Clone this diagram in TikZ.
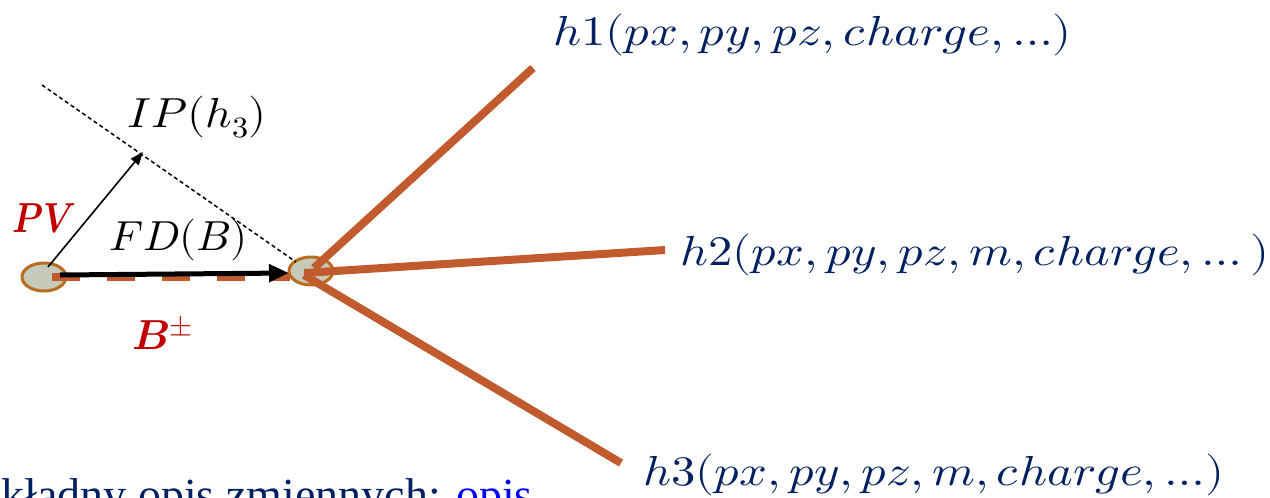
\documentclass[tikz,border=0pt]{standalone}
\usepackage{fontspec}
\usepackage{unicode-math}
\setmathfont{Latin Modern Math}
\newfontfamily\serifTNR{Liberation Serif}
\usetikzlibrary{shapes.geometric,arrows.meta}
\definecolor{navy}{HTML}{002060}
\definecolor{darkred}{HTML}{C00000}
\definecolor{trackor}{RGB}{193,90,45}
\definecolor{vfill}{RGB}{197,202,187}
\definecolor{vborder}{RGB}{184,108,28}
\tikzset{
  vtx/.style={ellipse, fill=vfill, draw=vborder, line width=3pt, minimum width=44pt, minimum height=28pt, inner sep=0pt},
  track/.style={draw=trackor, line width=8pt},
  btrack/.style={draw=trackor, line width=8pt, dash pattern=on 28pt off 27pt},
  fdarrow/.style={draw=black, line width=5pt, -{Triangle[length=20pt,width=17pt]}},
  iparrow/.style={draw=black, line width=1.6pt, -{Triangle[length=13pt,width=10pt]}},
  perp/.style={draw=black, line width=1.5pt, dash pattern=on 4pt off 3pt},
  lbl/.style={inner sep=0pt, font=\fontsize{42}{50}\selectfont},
  hlbl/.style={lbl, text=navy, anchor=base west},
  redlbl/.style={lbl, text=darkred, anchor=base west}
}
\begin{document}
\begin{tikzpicture}[x=1pt,y=-1pt]
\useasboundingbox (0,0) rectangle (1270,498);
% vertices
\node[vtx] (pv) at (44,277) {};
\node[vtx] (sv) at (311,271) {};
% B track (dashed)
\coordinate (bs) at (52,277);
\coordinate (be) at (290,277);
\draw[btrack] (bs) -- (be);
% daughter tracks
\coordinate (o1) at (314,268);
\coordinate (o2) at (304,273);
\coordinate (o3) at (304,275);
\coordinate (e1) at (533,68);
\coordinate (e2) at (665,250);
\coordinate (e3) at (621,463);
\draw[track] (o1) -- (e1);
\draw[track] (o2) -- (e2);
\draw[track] (o3) -- (e3);
% flight distance arrow
\coordinate (fs) at (60,275);
\coordinate (fe) at (289,273);
\draw[fdarrow] (fs) -- (fe);
% impact parameter
\coordinate (is) at (48,267);
\coordinate (ie) at (143,152);
\draw[iparrow] (is) -- (ie);
\coordinate (ds) at (42,85);
\coordinate (de) at (296,262);
\draw[perp] (ds) -- (de);
% labels
\node[lbl, anchor=base west] (ip) at (127,127) {\scalebox{1.1}[1]{$IP(h_3)$}};
\node[lbl, anchor=base west] (fd) at (109,250) {\scalebox{1.04}[1]{$FD(B)$}};
\node[redlbl] (pvl) at (12,232) {\scalebox{0.84}[1]{$\symbfit{PV}$}};
\node[redlbl] (bl) at (132,349) {$\symbfit{B}^{\symbf{\pm}}$};
\node[hlbl] (h1) at (553,45) {\scalebox{1.165}[1]{$h1(px,py,pz,charge,\ldots)$}};
\node[hlbl] (h2) at (680,265) {\scalebox{1.16}[1]{$h2(px,py,pz,m,charge,\ldots\,)$}};
\node[hlbl] (h3) at (643,485) {\scalebox{1.16}[1]{$h3(px,py,pz,m,charge,\ldots)$}};
% bottom (cut) text
\node[inner sep=0pt, anchor=base east, text=navy, font=\serifTNR\fontsize{46}{52}\selectfont] (bt) at (533,510) {Dokładny opis zmiennych: \textcolor{blue}{opis}};
\end{tikzpicture}
\end{document}
